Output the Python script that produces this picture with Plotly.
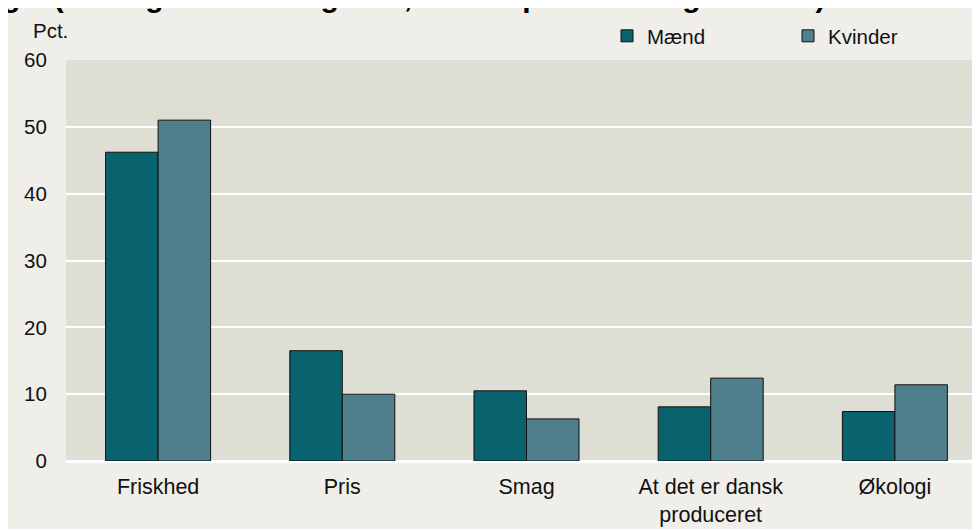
import plotly.graph_objects as go

categories = ["Friskhed", "Pris", "Smag", "At det er dansk<br>produceret", "Økologi"]
maend = [46.2, 16.5, 10.5, 8.1, 7.4]
kvinder = [51.0, 10.0, 6.3, 12.4, 11.4]
y_ticks = [0, 10, 20, 30, 40, 50, 60]

W, H = 1000, 540
L, R, T, B = 58, 21, 52, 87
pw, ph = W - L - R, H - T - B

def px_x(p):
    return (p - L) / pw

def px_y(p):
    return (H - B - p) / ph

FONT = "Liberation Sans, Arial, sans-serif"

fig = go.Figure()
fig.add_trace(go.Bar(name="Mænd", x=categories, y=maend,
                     marker=dict(color="#08636F", line=dict(color="#111111", width=1))))
fig.add_trace(go.Bar(name="Kvinder", x=categories, y=kvinder,
                     marker=dict(color="#4F7F8C", line=dict(color="#111111", width=1))))

fig.update_layout(
    width=W, height=H,
    margin=dict(l=L, r=R, t=T, b=B, autoexpand=False),
    paper_bgcolor="#EFEEE8",
    plot_bgcolor="#DFDED4",
    font=dict(family=FONT, size=20.5, color="#111111"),
    barmode="group",
    bargap=0.43,
    bargroupgap=0,
    showlegend=True,
    legend=dict(orientation="h", x=px_x(599), xanchor="left", y=px_y(8), yanchor="top",
                bgcolor="rgba(0,0,0,0)", font=dict(size=20.5),
                entrywidth=136, entrywidthmode="pixels", itemwidth=30,
                traceorder="normal"),
    xaxis=dict(range=[-0.5, 4.5], showgrid=False, zeroline=False, showline=False,
               ticks="outside", ticklen=6, tickcolor="rgba(0,0,0,0)",
               tickfont=dict(size=21.5)),
    yaxis=dict(range=[0, 60], tickvals=y_ticks, showgrid=True, gridcolor="#FFFFFF",
               gridwidth=2, zeroline=True, zerolinecolor="#FFFFFF", zerolinewidth=3,
               showline=False, ticks="outside", ticklen=14, tickcolor="rgba(0,0,0,0)",
               tickfont=dict(size=20.5)),
)

fig.add_annotation(text="<b>ge. (Udvalgte svarkategorier, fordelt på mænd og kvinder)</b>",
                   xref="paper", yref="paper", x=px_x(-8), y=px_y(7.5),
                   xanchor="left", yanchor="bottom", showarrow=False,
                   font=dict(size=30, family=FONT, color="#000000"))
fig.add_annotation(text="Pct.", xref="paper", yref="paper", x=px_x(23), y=px_y(23),
                   xanchor="left", yanchor="middle", showarrow=False,
                   font=dict(size=20.5, family=FONT, color="#111111"))

fig.write_html("out.html")
